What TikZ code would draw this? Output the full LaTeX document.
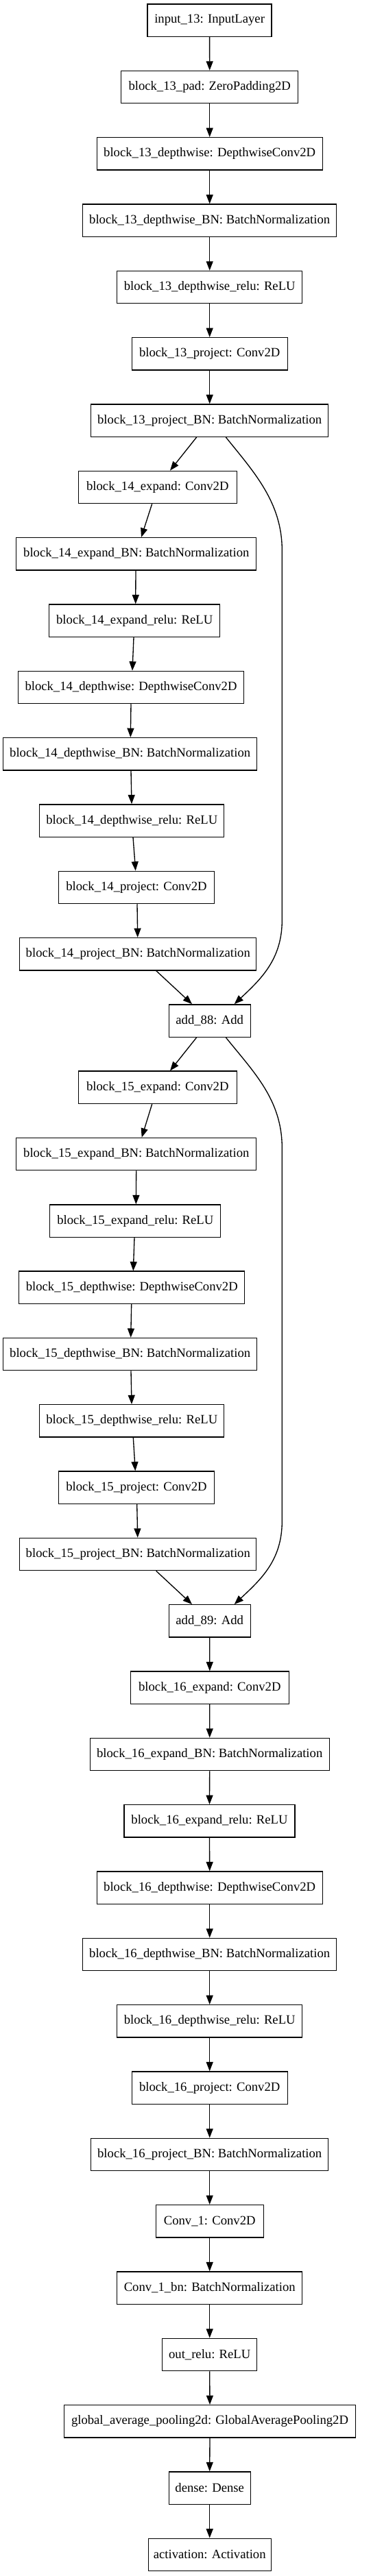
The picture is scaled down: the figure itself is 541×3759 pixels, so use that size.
\documentclass[tikz,border=0pt]{standalone}
\usepackage{fontspec}
\setmainfont{Liberation Serif}
\usetikzlibrary{arrows.meta,calc}
\tikzset{
  box/.style={draw, line width=1pt, inner sep=0pt, minimum height=35.5pt, minimum width=#1*0.75pt, font=\fontsize{14}{16}\selectfont},
  arr/.style={-{Triangle[length=10pt,width=7.5pt]}, line width=1pt}
}
\begin{document}
\begin{tikzpicture}[x=0.75pt,y=-0.75pt]
\useasboundingbox (0,0) rectangle (541,3759);
\node[box=181] (n0) at (305.6,29.7) {input\_13: InputLayer};
\node[box=258] (n1) at (305.7,127.0) {block\_13\_pad: ZeroPadding2D};
\node[box=329] (n2) at (305.7,224.3) {block\_13\_depthwise: DepthwiseConv2D};
\node[box=370] (n3) at (305.7,321.7) {block\_13\_depthwise\_BN: BatchNormalization};
\node[box=270] (n4) at (305.7,419.0) {block\_13\_depthwise\_relu: ReLU};
\node[box=227] (n5) at (305.7,516.3) {block\_13\_project: Conv2D};
\node[box=346] (n6) at (305.7,613.6) {block\_13\_project\_BN: BatchNormalization};
\node[box=231] (n7) at (229.8,710.9) {block\_14\_expand: Conv2D};
\node[box=350] (n8) at (198.8,808.3) {block\_14\_expand\_BN: BatchNormalization};
\node[box=249] (n9) at (196.2,905.6) {block\_14\_expand\_relu: ReLU};
\node[box=329] (n10) at (191.0,1002.9) {block\_14\_depthwise: DepthwiseConv2D};
\node[box=370] (n11) at (189.7,1100.2) {block\_14\_depthwise\_BN: BatchNormalization};
\node[box=269] (n12) at (192.3,1197.5) {block\_14\_depthwise\_relu: ReLU};
\node[box=227] (n13) at (199.0,1294.9) {block\_14\_project: Conv2D};
\node[box=345] (n14) at (201.3,1392.2) {block\_14\_project\_BN: BatchNormalization};
\node[box=119] (n15) at (305.7,1489.5) {add\_88: Add};
\node[box=231] (n16) at (229.8,1586.8) {block\_15\_expand: Conv2D};
\node[box=350] (n17) at (198.8,1684.1) {block\_15\_expand\_BN: BatchNormalization};
\node[box=249] (n18) at (197.3,1781.5) {block\_15\_expand\_relu: ReLU};
\node[box=329] (n19) at (192.3,1878.8) {block\_15\_depthwise: DepthwiseConv2D};
\node[box=370] (n20) at (189.7,1976.1) {block\_15\_depthwise\_BN: BatchNormalization};
\node[box=269] (n21) at (192.3,2073.4) {block\_15\_depthwise\_relu: ReLU};
\node[box=227] (n22) at (199.0,2170.7) {block\_15\_project: Conv2D};
\node[box=345] (n23) at (201.3,2268.0) {block\_15\_project\_BN: BatchNormalization};
\node[box=119] (n24) at (305.7,2365.4) {add\_89: Add};
\node[box=231] (n25) at (305.8,2462.7) {block\_16\_expand: Conv2D};
\node[box=349] (n26) at (305.7,2560.0) {block\_16\_expand\_BN: BatchNormalization};
\node[box=249] (n27) at (305.5,2657.3) {block\_16\_expand\_relu: ReLU};
\node[box=329] (n28) at (305.7,2754.6) {block\_16\_depthwise: DepthwiseConv2D};
\node[box=370] (n29) at (305.7,2852.0) {block\_16\_depthwise\_BN: BatchNormalization};
\node[box=270] (n30) at (305.7,2949.3) {block\_16\_depthwise\_relu: ReLU};
\node[box=227] (n31) at (305.7,3046.6) {block\_16\_project: Conv2D};
\node[box=346] (n32) at (305.7,3143.9) {block\_16\_project\_BN: BatchNormalization};
\node[box=157] (n33) at (305.7,3241.2) {Conv\_1: Conv2D};
\node[box=270] (n34) at (305.7,3338.6) {Conv\_1\_bn: BatchNormalization};
\node[box=138] (n35) at (305.7,3435.9) {out\_relu: ReLU};
\node[box=425] (n36) at (306.0,3533.2) {global\_average\_pooling2d: GlobalAveragePooling2D};
\node[box=119] (n37) at (305.7,3630.5) {dense: Dense};
\node[box=179] (n38) at (305.7,3727.8) {activation: Activation};
% straight chain
\foreach \a/\b in {n0/n1,n1/n2,n2/n3,n3/n4,n4/n5,n5/n6,n24/n25,n25/n26,n26/n27,n27/n28,n28/n29,n29/n30,n30/n31,n31/n32,n32/n33,n33/n34,n34/n35,n35/n36,n36/n37,n37/n38}
  \draw[arr] (\a.south) -- (\b.north);
% block 14
\draw[arr] ($(n6.south)+(-19,0)$) -- ($(n7.north)+(18.2,0)$);
\draw[arr] ($(n7.south)+(-8.1,0)$) -- ($(n8.north)+(7.2,0)$);
\draw[arr] ($(n8.south)+(-0.8,0)$) -- ($(n9.north)+(1.5,0)$);
\draw[arr] ($(n9.south)+(-1.2,0)$) -- ($(n10.north)+(2,0)$);
\draw[arr] ($(n10.south)+(0,0)$) -- ($(n11.north)+(0.6,0)$);
\draw[arr] ($(n11.south)+(1.3,0)$) -- ($(n12.north)+(-0.3,0)$);
\draw[arr] ($(n12.south)+(1.7,0)$) -- ($(n13.north)+(-1.3,0)$);
\draw[arr] ($(n13.south)+(1,0)$) -- ($(n14.north)+(-0.6,0)$);
\draw[arr] ($(n14.south)+(26.4,0)$) -- ($(n15.north)+(-25.7,0)$);
\draw[arr] ($(n6.south)+(23.6,0)$) .. controls +(41,51) and +(0,-70) .. (411.3,803) -- (411.3,1343) .. controls +(0,57) and +(38.3,-36) .. ($(n15.north)+(36,0)$);
% block 15
\draw[arr] ($(n15.south)+(-19,0)$) -- ($(n16.north)+(18.2,0)$);
\draw[arr] ($(n16.south)+(-8.1,0)$) -- ($(n17.north)+(7.9,0)$);
\draw[arr] ($(n17.south)+(-0.1,0)$) -- ($(n18.north)+(1,0)$);
\draw[arr] ($(n18.south)+(-1.3,0)$) -- ($(n19.north)+(2,0)$);
\draw[arr] ($(n19.south)+(-0.6,0)$) -- ($(n20.north)+(1,0)$);
\draw[arr] ($(n20.south)+(1.3,0)$) -- ($(n21.north)+(-0.3,0)$);
\draw[arr] ($(n21.south)+(2,0)$) -- ($(n22.north)+(-1.7,0)$);
\draw[arr] ($(n22.south)+(0.7,0)$) -- ($(n23.north)+(-0.6,0)$);
\draw[arr] ($(n23.south)+(26.4,0)$) -- ($(n24.north)+(-25.7,0)$);
\draw[arr] ($(n15.south)+(23.6,0)$) .. controls +(41,51) and +(0,-70) .. (411.3,1675) -- (411.3,2220) .. controls +(0,57) and +(38.3,-36) .. ($(n24.north)+(36,0)$);
\end{tikzpicture}
\end{document}
